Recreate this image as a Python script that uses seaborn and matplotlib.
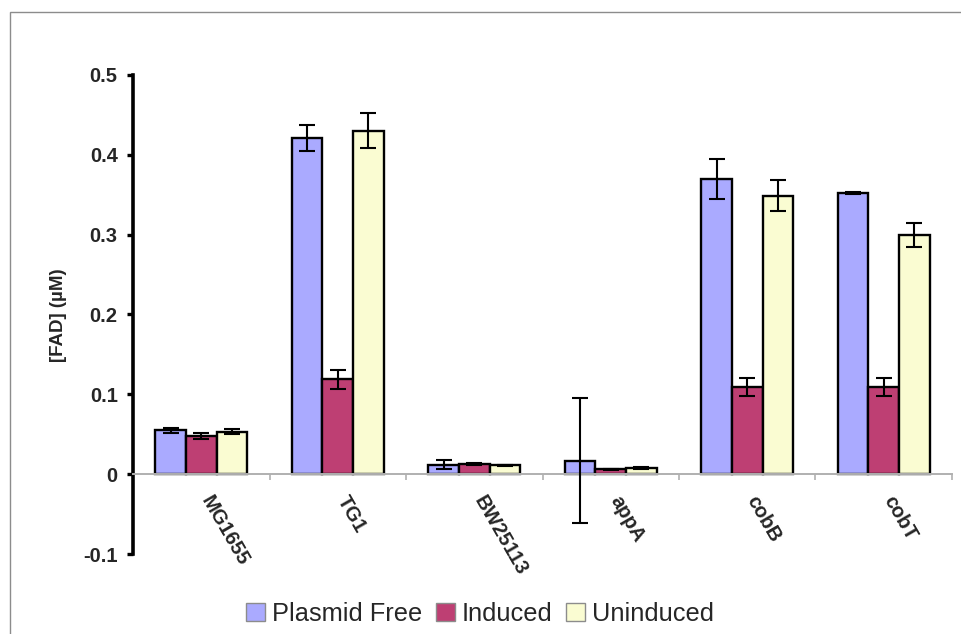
import matplotlib
matplotlib.use("Agg")
import matplotlib.pyplot as plt
import matplotlib.patches as mpatches
import matplotlib.transforms as mtransforms
from matplotlib.ticker import FixedLocator, FixedFormatter
import numpy as np
import pandas as pd
import seaborn as sns

# FAD concentration per strain and condition (uM) with error-bar half widths
strains = ["MG1655", "TG1", "BW25113", "appA", "cobB", "cobT"]
conditions = ["Plasmid Free", "Induced", "Uninduced"]
plasmid_free = [0.055, 0.421, 0.012, 0.017, 0.370, 0.352]
induced = [0.048, 0.119, 0.013, 0.006, 0.109, 0.109]
uninduced = [0.053, 0.430, 0.011, 0.008, 0.349, 0.299]
plasmid_free_err = [0.003, 0.016, 0.0055, 0.078, 0.025, 0.001]
induced_err = [0.004, 0.012, 0.0015, 0.001, 0.011, 0.011]
uninduced_err = [0.003, 0.022, 0.001, 0.001, 0.019, 0.015]
y_ticks = [-0.1, 0.0, 0.1, 0.2, 0.3, 0.4, 0.5]
y_tick_labels = ["-0.1", "0", "0.1", "0.2", "0.3", "0.4", "0.5"]
colors = ["#AAAAFF", "#BE3F73", "#FAFCD2"]

values = [plasmid_free, induced, uninduced]
errors = [plasmid_free_err, induced_err, uninduced_err]
df = pd.DataFrame({
    "strain": np.repeat([strains], 3, axis=0).ravel(),
    "condition": np.repeat(conditions, len(strains)),
    "fad": np.concatenate(values),
})

sns.set_style("white")
plt.rcParams["font.family"] = ["Liberation Sans", "DejaVu Sans"]

fig = plt.figure(figsize=(9.61, 6.34), dpi=100)
ax = fig.add_axes([133 / 961, 1 - 554 / 634, (952 - 133) / 961, (554 - 75) / 634])

sns.barplot(data=df, x="strain", y="fad", hue="condition", order=strains,
            hue_order=conditions, palette=colors, errorbar=None,
            width=0.675, gap=0, edgecolor="black", linewidth=1.7,
            saturation=1, ax=ax, zorder=2)

for container, err in zip(ax.containers, errors):
    xs = [b.get_x() + b.get_width() / 2 for b in container.patches]
    hs = [b.get_height() for b in container.patches]
    ax.errorbar(xs, hs, yerr=err, fmt="none", ecolor="black",
                elinewidth=1.5, capsize=6, capthick=1.5, zorder=3)

ax.set_xlim(-0.5, len(strains) - 0.5)
ax.set_ylim(-0.1, 0.5)

for side in ["top", "right"]:
    ax.spines[side].set_visible(False)
ax.spines["left"].set_linewidth(2.6)
ax.spines["left"].set_color("black")
ax.spines["bottom"].set_position(("data", 0))
ax.spines["bottom"].set_color("#B0B0B0")
ax.spines["bottom"].set_linewidth(1.4)

ax.yaxis.set_major_locator(FixedLocator(y_ticks))
ax.yaxis.set_major_formatter(FixedFormatter(y_tick_labels))
ax.tick_params(axis="y", direction="out", length=4, width=2.4, color="black",
               pad=7, labelsize=14.5, left=True)
for lbl in ax.get_yticklabels():
    lbl.set_fontweight("bold")

ax.set_xticks(range(len(strains)))
ax.set_xticklabels(strains, fontsize=14.5, fontweight="bold", rotation=-60,
                   ha="left", va="top")
ax.tick_params(axis="x", which="major", length=0, pad=13, bottom=True)
shift = mtransforms.ScaledTranslation(-4 / 100, 0, fig.dpi_scale_trans)
for lbl in ax.get_xticklabels():
    lbl.set_transform(lbl.get_transform() + shift)
ax.set_xticks(np.arange(-0.5, len(strains), 1.0), minor=True)
ax.tick_params(axis="x", which="minor", direction="out", length=4, width=1.2,
               color="#B0B0B0", bottom=True)

ax.set_xlabel("")
ax.set_ylabel("[FAD] (µM)", fontsize=13.5, fontweight="bold")
ax.yaxis.set_label_coords(67 / 961, 1 - 315 / 634, transform=fig.transFigure)

ax.get_legend().remove()
handles = [mpatches.Patch(facecolor=c, edgecolor="#8C8C8C", linewidth=1.0)
           for c in colors]
fig.legend(handles, conditions, loc="center", bbox_to_anchor=(480 / 961, 1 - 614 / 634),
           ncol=3, frameon=False, fontsize=18.3, handlelength=0.75,
           handleheight=0.75, handletextpad=0.25, columnspacing=0.55,
           borderpad=0)

# grey outer frame
fig.patches.append(mpatches.Rectangle((10 / 961, -0.2), 1.2, 1 - 12 / 634 + 0.2,
                                      transform=fig.transFigure, fill=False,
                                      edgecolor="#8C8C8C", linewidth=1.0))

fig.savefig("out.png", dpi=100)
